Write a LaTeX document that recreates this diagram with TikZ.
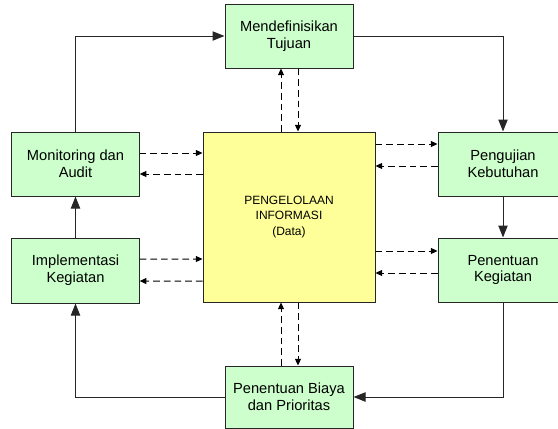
\documentclass[tikz,border=0pt]{standalone}
\usepackage{fontspec}
\setmainfont{Liberation Sans}
\usetikzlibrary{calc,arrows.meta}
\definecolor{boxgreen}{HTML}{CCFFCC}
\definecolor{boxyellow}{HTML}{FFFF99}

\begin{document}
\begin{tikzpicture}[x=0.75pt,y=-0.75pt,
    stepbox/.style={draw=black!85, fill=boxgreen, line width=0.75pt, align=center,
      minimum width=96pt, minimum height=48pt, inner sep=1pt,
      font=\fontsize{11}{12.5}\selectfont},
    infobox/.style={draw=black!85, fill=boxyellow, line width=0.75pt, align=center,
      minimum width=129pt, minimum height=127.5pt,
      font=\fontsize{9}{11.5}\selectfont},
    flow/.style={line width=0.75pt, draw=black!85, -{Triangle[length=9pt,width=7pt]}},
    data/.style={line width=0.75pt, dash pattern=on 5pt off 3pt, -{Triangle[length=5pt,width=4.5pt]}}]
      \useasboundingbox (0,0) rectangle (558,429);

      \node (tuj) at (289,36) [stepbox] {Mendefinisikan\\Tujuan};
      \node (info) at (289,217) [infobox] {PENGELOLAAN\\INFORMASI\\(Data)};
      \node (mon) at (75.5,164) [stepbox, minimum width=95.6pt] {Monitoring dan\\Audit};
      \node (imp) at (75.5,270.5) [stepbox, minimum width=95.6pt, minimum height=48.75pt] {Implementasi\\Kegiatan};
      \node (uji) at (503,164) [stepbox, minimum width=97.5pt] {Pengujian\\Kebutuhan};
      \node (keg) at (503,270) [stepbox, minimum width=97.5pt] {Penentuan\\Kegiatan};
      \node (bia) at (289,397) [stepbox, minimum height=46.5pt] {Penentuan Biaya\\dan Prioritas};

      \draw[flow]
      (mon.north) |- (tuj.west);
      \draw[flow]
      (tuj.east) -| (uji.north);
      \draw[flow]
      (uji) to (keg);
      \draw[flow]
      (keg.south) |- (bia.east);
      \draw[flow]
      (bia.west) -| (imp.south);
      \draw[flow]
      (imp) to (mon);

      \draw[data]
      ([xshift=-6pt]info.north) to ([xshift=-6pt]tuj.south);
      \draw[data]
      ([xshift=6.75pt]tuj.south) to ([xshift=6.75pt]info.north);
      \draw[data]
      ([xshift=-6pt]bia.north) to ([xshift=-6pt]info.south);
      \draw[data]
      ([xshift=6.75pt]info.south) to ([xshift=6.75pt]bia.north);
      \draw[data]
      ([yshift=8.25pt]mon.east) to ($(info.west)+(0,153-217)$);
      \draw[data]
      ($(info.west)+(0,174-217)$) to ([yshift=-7.5pt]mon.east);
      \draw[data]
      ([yshift=8.6pt]imp.east) to ($(info.west)+(0,259-217)$);
      \draw[data]
      ($(info.west)+(0,281-217)$) to ([yshift=-7.9pt]imp.east);
      \draw[data]
      ($(info.east)+(0,144-217)$) to ([yshift=15pt]uji.west);
      \draw[data]
      ([yshift=-1.5pt]uji.west) to ($(info.east)+(0,166-217)$);
      \draw[data]
      ($(info.east)+(0,251-217)$) to ([yshift=14.25pt]keg.west);
      \draw[data]
      ([yshift=-2.25pt]keg.west) to ($(info.east)+(0,273-217)$);
    \end{tikzpicture}
\end{document}
